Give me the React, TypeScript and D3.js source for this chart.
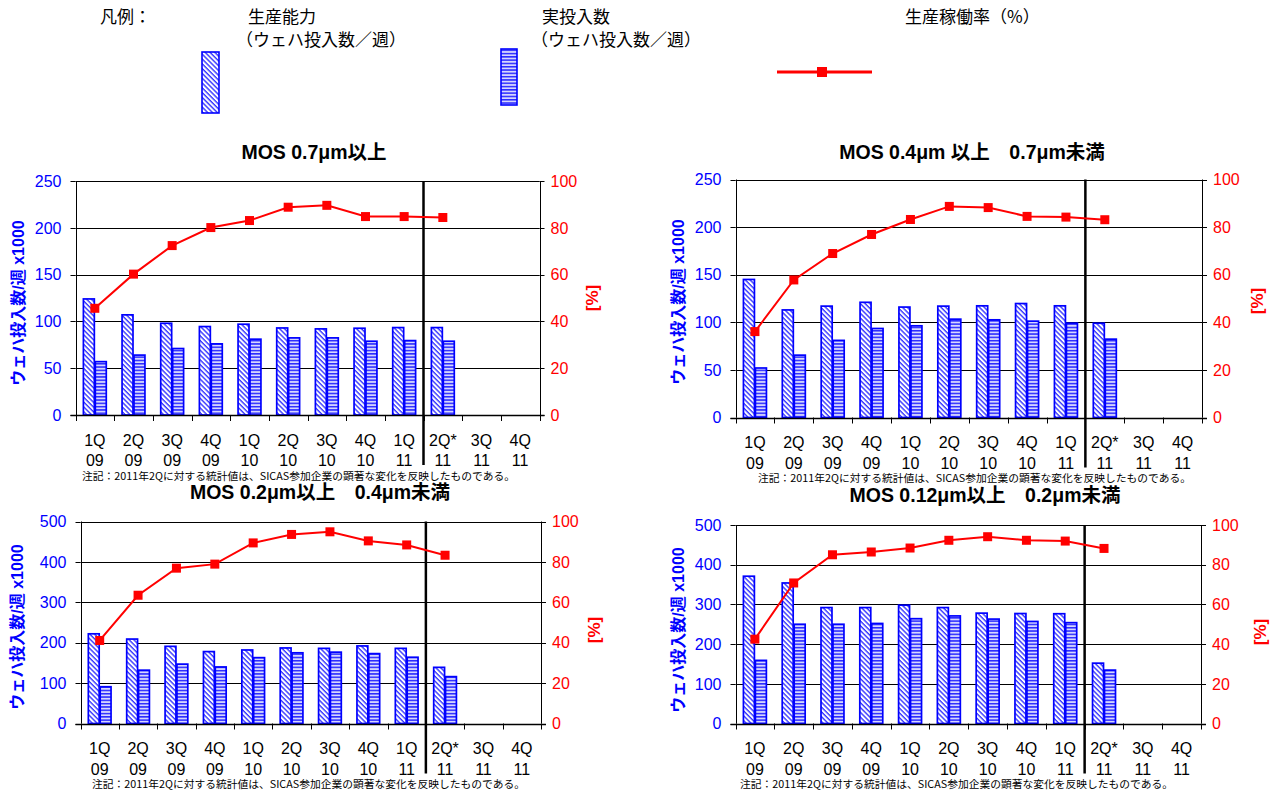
import React from "react";
import * as d3 from "d3";

// ---------- data ----------
const quarters = ["1Q", "2Q", "3Q", "4Q", "1Q", "2Q", "3Q", "4Q", "1Q", "2Q*", "3Q", "4Q"];
const years = ["09", "09", "09", "09", "10", "10", "10", "10", "11", "11", "11", "11"];

const capacity07 = [124, 107, 98, 94.5, 97, 93, 92, 92.7, 93.4, 93.4, null, null];
const actual07 = [57, 64, 71, 76, 81, 82.4, 82.4, 78.8, 79.5, 78.8, null, null];
const rate07 = [45.6, 60.2, 72.4, 80.1, 83.1, 88.8, 89.6, 84.8, 84.8, 84.4, null, null];

const capacity0407 = [145, 113, 117, 121, 116, 117, 117.3, 119.7, 117.3, 99, null, null];
const actual0407 = [52, 65.5, 81, 93.5, 96.3, 103.3, 102.6, 101.2, 99.1, 82.3, null, null];
const rate0407 = [36.1, 57.8, 68.9, 76.9, 83.2, 88.7, 88.2, 84.5, 84.2, 83.1, null, null];

const capacity0204 = [222, 209, 191, 178, 182, 187, 186, 192, 186, 139, null, null];
const actual0204 = [91, 132, 147, 140, 163, 175, 176.6, 173, 164, 116, null, null];
const rate0204 = [41.1, 63.5, 76.9, 78.9, 89.4, 93.6, 94.9, 90.4, 88.4, 83.3, null, null];

const capacity01202 = [371, 354, 292, 292, 298, 292, 278, 277, 276.5, 152, null, null];
const actual01202 = [159, 250, 250, 252, 264, 271, 263, 257, 254, 134.5, null, null];
const rate01202 = [42.5, 70.8, 85, 86.4, 88.4, 92.3, 94.1, 92.3, 91.9, 88.2, null, null];

const leftTicks250 = [0, 50, 100, 150, 200, 250];
const leftTicks500 = [0, 100, 200, 300, 400, 500];
const rightTicks = [0, 20, 40, 60, 80, 100];

const titles = [
  "MOS 0.7μm以上",
  "MOS 0.4μm 以上\u20030.7μm未満",
  "MOS 0.2μm以上\u20030.4μm未満",
  "MOS 0.12μm以上\u20030.2μm未満",
];
const noteText = "注記：2011年2Qに対する統計値は、SICAS参加企業の顕著な変化を反映したものである。";
const leftAxisTitle = "ウェハ投入数/週 x1000";
const rightAxisTitle = "[%]";

// ---------- styles ----------
const BLUE = "#0000ff";
const RED = "#ff0000";
const NUM_FONT = "'Liberation Sans', Arial, 'Noto Sans CJK JP', sans-serif";
const JP_FONT = "'Noto Sans CJK JP', 'Liberation Sans', sans-serif";

const charts = [
  {
    left: 75.5, right: 539.5, top: 181, bottom: 415, max: 250, ticks: leftTicks250,
    cap: capacity07, act: actual07, rate: rate07, title: titles[0],
    titleX: 314, titleY: 159, axX: 18, axY: 303, pctX: 592, pctY: 298, noteX: 82,
  },
  {
    left: 735.5, right: 1202, top: 179.5, bottom: 417.5, max: 250, ticks: leftTicks250,
    cap: capacity0407, act: actual0407, rate: rate0407, title: titles[1],
    titleX: 972, titleY: 159, axX: 678, axY: 302, pctX: 1257, pctY: 301, noteX: 758,
  },
  {
    left: 80.5, right: 541, top: 521.5, bottom: 723.5, max: 500, ticks: leftTicks500,
    cap: capacity0204, act: actual0204, rate: rate0204, title: titles[2],
    titleX: 320, titleY: 499, axX: 17, axY: 627, pctX: 594, pctY: 630, noteX: 92,
  },
  {
    left: 735.5, right: 1201, top: 525, bottom: 723.5, max: 500, ticks: leftTicks500,
    cap: capacity01202, act: actual01202, rate: rate01202, title: titles[3],
    titleX: 985, titleY: 502, axX: 678, axY: 630, pctX: 1260, pctY: 632, noteX: 740,
  },
];

function Chart({ c }: { c: any }) {
  const idx = d3.range(quarters.length);
  const x = d3.scaleBand<number>().domain(idx).range([c.left, c.right]).paddingInner(0).paddingOuter(0);
  const y = d3.scaleLinear().domain([0, c.max]).range([c.bottom, c.top]);
  const y2 = d3.scaleLinear().domain([0, 100]).range([c.bottom, c.top]);
  const bw = x.bandwidth() * 0.283;
  const cx = (i: number) => (x(i) as number) + x.bandwidth() / 2;
  const pts = idx.filter((i) => c.rate[i] != null).map((i) => [cx(i), y2(c.rate[i])] as [number, number]);
  const line = d3.line<[number, number]>().x((d) => d[0]).y((d) => d[1]);
  const divX = x(9) as number;
  const snap = (v: number) => Math.round(v) + 0.5;

  return (
    <g>
      <text x={c.titleX} y={c.titleY} textAnchor="middle" fontFamily={NUM_FONT} fontWeight="bold" fontSize={19.5} style={{ whiteSpace: "pre" }}>
        {c.title}
      </text>
      {/* gridlines */}
      {c.ticks.filter((t: number) => t > 0).map((t: number) => (
        <line key={"g" + t} x1={c.left} x2={c.right} y1={snap(y(t))} y2={snap(y(t))} stroke="#000" strokeWidth={1} />
      ))}
      {/* bars */}
      {idx.map((i) =>
        c.cap[i] == null ? null : (
          <g key={"b" + i}>
            <rect x={cx(i) - bw - 0.5} y={y(c.cap[i])} width={bw} height={c.bottom - y(c.cap[i])} fill="url(#hatchDiag)" stroke={BLUE} strokeWidth={1.7} />
            <rect x={cx(i) + 0.5} y={y(c.act[i])} width={bw} height={c.bottom - y(c.act[i])} fill="url(#hatchHoriz)" stroke={BLUE} strokeWidth={1.7} />
          </g>
        )
      )}
      {/* axes */}
      <line x1={snap(c.left)} x2={snap(c.left)} y1={c.top} y2={c.bottom} stroke="#000" />
      <line x1={snap(c.right)} x2={snap(c.right)} y1={c.top} y2={c.bottom} stroke="#000" />
      <line x1={c.left - 5} x2={c.right + 5} y1={snap(c.bottom)} y2={snap(c.bottom)} stroke="#000" strokeWidth={1.5} />
      {c.ticks.map((t: number) => (
        <g key={"lt" + t}>
          <line x1={c.left - 5} x2={c.left} y1={snap(y(t))} y2={snap(y(t))} stroke="#000" />
          <text x={c.left - 14} y={y(t)} dy="0.36em" textAnchor="end" fill={BLUE} fontFamily={NUM_FONT} fontSize={16}>
            {t}
          </text>
        </g>
      ))}
      {rightTicks.map((t) => (
        <g key={"rt" + t}>
          <line x1={c.right} x2={c.right + 5} y1={snap(y2(t))} y2={snap(y2(t))} stroke="#000" />
          <text x={c.right + 11} y={y2(t)} dy="0.36em" textAnchor="start" fill={RED} fontFamily={NUM_FONT} fontSize={16}>
            {t}
          </text>
        </g>
      ))}
      {d3.range(quarters.length + 1).map((i) => {
        const xx = i < quarters.length ? (x(i) as number) : c.right;
        return <line key={"xt" + i} x1={snap(xx)} x2={snap(xx)} y1={c.bottom} y2={c.bottom + 6} stroke="#000" />;
      })}
      {idx.map((i) => (
        <g key={"xl" + i}>
          <text x={cx(i)} y={c.bottom + 25} dy="0.36em" textAnchor="middle" fontFamily={NUM_FONT} fontSize={16}>
            {quarters[i]}
          </text>
          <text x={cx(i)} y={c.bottom + 45.5} dy="0.36em" textAnchor="middle" fontFamily={NUM_FONT} fontSize={16}>
            {years[i]}
          </text>
        </g>
      ))}
      {/* divider */}
      <line x1={divX} x2={divX} y1={c.top} y2={c.bottom + 50} stroke="#000" strokeWidth={2.5} />
      {/* rate line */}
      <path d={line(pts) || ""} fill="none" stroke={RED} strokeWidth={2} />
      {pts.map((p, k) => (
        <rect key={"m" + k} x={p[0] - 4.5} y={p[1] - 4.5} width={9} height={9} fill={RED} />
      ))}
      {/* axis titles */}
      <text transform={`translate(${c.axX},${c.axY}) rotate(-90)`} textAnchor="middle" dy="0.36em" fill={BLUE} fontFamily={NUM_FONT} fontWeight="bold" fontSize={16}>
        {leftAxisTitle}
      </text>
      <text transform={`translate(${c.pctX},${c.pctY}) rotate(-90)`} textAnchor="middle" dy="0.36em" fill={RED} fontFamily={NUM_FONT} fontWeight="bold" fontSize={17}>
        {rightAxisTitle}
      </text>
      {/* note */}
      <text x={c.noteX} y={c.bottom + 61} dy="0.36em" fontFamily={JP_FONT} fontSize={10.5} textLength={433} lengthAdjust="spacingAndGlyphs">
        {noteText}
      </text>
    </g>
  );
}

export default function App() {
  return (
    <svg width={1277} height={796} style={{ position: "absolute", left: 0, top: 0, background: "#fff" }}>
      <defs>
        <pattern id="hatchDiag" patternUnits="userSpaceOnUse" width={3.4} height={3.4} patternTransform="rotate(45)">
          <rect width={3.4} height={3.4} fill="#ffffff" />
          <rect width={3.4} height={1.4} fill="#3535ff" />
        </pattern>
        <pattern id="hatchHoriz" patternUnits="userSpaceOnUse" width={4} height={3.3}>
          <rect width={4} height={3.3} fill="#d6d6ff" />
          <rect width={4} height={1.5} fill="#2a2aff" />
        </pattern>
      </defs>
      <rect width={1277} height={796} fill="#fff" />
      {/* legend */}
      <g fontFamily={JP_FONT} fontSize={17}>
        <text x={100} y={23}>凡例：</text>
        <text x={248} y={23}>生産能力</text>
        <text x={236} y={46}>（ウェハ投入数／週）</text>
        <text x={542} y={23}>実投入数</text>
        <text x={531} y={46}>（ウェハ投入数／週）</text>
        <text x={905} y={23}>生産稼働率（%）</text>
      </g>
      <rect x={202} y={52} width={17} height={61} fill="url(#hatchDiag)" stroke={BLUE} strokeWidth={1.6} />
      <rect x={501} y={49} width={16} height={56} fill="url(#hatchHoriz)" stroke={BLUE} strokeWidth={1.6} />
      <line x1={777} x2={872} y1={72} y2={72} stroke={RED} strokeWidth={3} />
      <rect x={817} y={67} width={10} height={10} fill={RED} />
      {charts.map((c, i) => (
        <Chart key={i} c={c} />
      ))}
    </svg>
  );
}
